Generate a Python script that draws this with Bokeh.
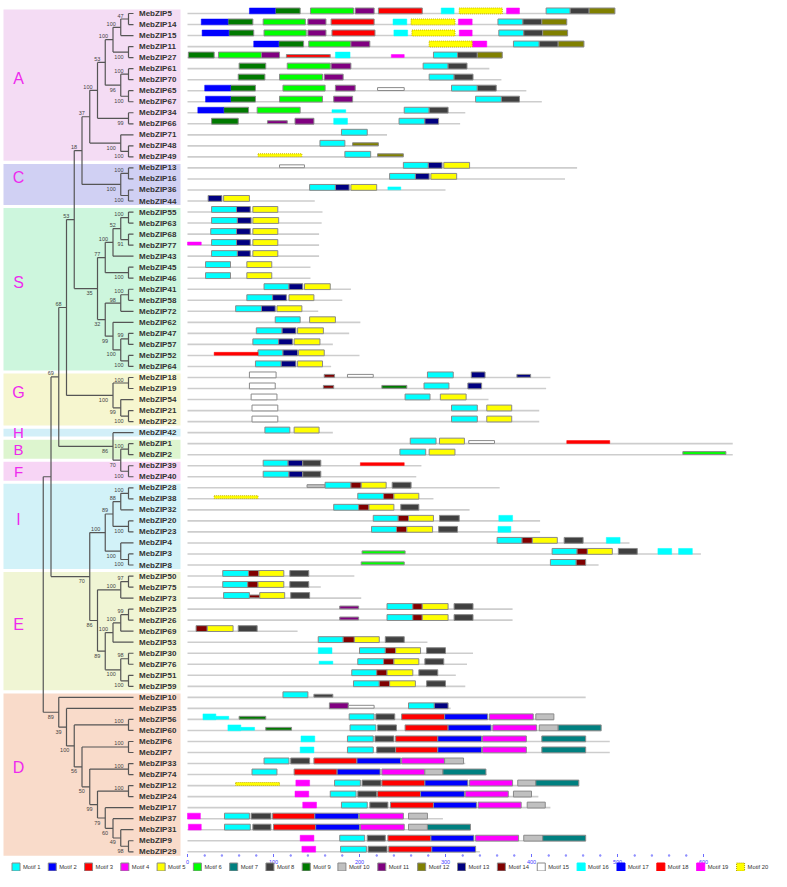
from bokeh.plotting import figure
from bokeh.models import Range1d, ColumnDataSource
from bokeh.core.properties import value
from bokeh.embed import file_html
from bokeh.resources import INLINE

# ---------------- DATA ----------------
# Tree topology (Newick, gene numbers, bootstrap support after ')')
newick_A = "((((((5,14)47,15)100,(11,27)100)100,((61,70)100,(65,67)100)96)53,(34,66)99)100,(71,(48,49)100)100)37"
newick_C = "((13,16)100,(36,44)100)100"
newick_S = ("(((((55,63)100,(68,77)91)52,43)100,(45,46)100)77,"
            "(((41,58)100,72)98,(62,((47,57)99,(52,64)100)100)99)32)35")
newick_G = "((18,19)100,(54,(21,22)100)99)100"
newick_HBF = "(42,((1,2)100,(39,40)100)70)86"
newick_I = "((((28,38)100,32)88,(20,23)100)89,(4,(3,8)100)100)100"
newick_E = "(((50,75)97,73)100,((((25,26)99,69)100,53)100,((30,76)98,(51,59)100)100)89)86"
newick_D = "(10,(35,((56,60)100,((6,7)100,((33,74)100,((12,24)100,(17,(37,(31,(9,29)98)49)60)79)99)50)56)100)39)89"

# Protein length (aa) and motif hits (motif, start, end[, 'w' = weak/thin hit])
clade_A = {
    "MebZIP5": (497, [(17,72,102),(9,102,131),(6,143,193),(11,195,217),(3,222,273),(16,295,310),(20,316,366),(19,371,386),(1,417,445),(8,445,467),(12,467,497)]),
    "MebZIP14": (441, [(17,16,47),(9,47,76),(6,88,137),(11,140,161),(3,167,217),(16,239,255),(20,260,311),(19,315,331),(1,361,390),(8,390,412),(12,412,441)]),
    "MebZIP15": (442, [(17,17,48),(9,48,77),(6,89,138),(11,140,161),(3,168,218),(16,240,256),(20,261,311),(19,316,331),(1,362,391),(8,391,413),(12,413,442)]),
    "MebZIP11": (461, [(17,77,106),(9,106,135),(6,141,190),(11,190,212),(20,281,331),(19,331,348),(1,379,409),(8,409,431),(12,431,461)]),
    "MebZIP27": (366, [(9,1,31),(6,36,86),(11,86,107),(3,115,166,'w'),(16,172,189),(19,237,252,'w'),(1,286,314),(8,314,337),(12,337,366)]),
    "MebZIP61": (351, [(9,60,91),(6,116,166),(11,167,190),(1,274,303),(8,303,325)]),
    "MebZIP70": (365, [(9,59,90),(6,107,157),(11,159,181),(1,281,310),(8,310,332)]),
    "MebZIP65": (394, [(17,20,50),(9,50,79),(6,111,160),(11,172,195),(15,221,252,'w'),(1,307,337),(8,337,359)]),
    "MebZIP67": (412, [(17,21,50),(9,50,79),(6,107,157),(11,170,192),(1,335,365),(8,365,386)]),
    "MebZIP34": (323, [(17,12,42),(9,42,71),(6,81,131),(16,168,184,'w'),(1,252,281),(8,281,303)]),
    "MebZIP66": (317, [(9,28,59),(11,93,116,'w'),(11,125,147),(16,170,186),(1,246,276),(13,276,292)]),
    "MebZIP71": (232, [(1,179,209)]),
    "MebZIP48": (222, [(1,154,183),(12,192,222,'w')]),
    "MebZIP49": (251, [(20,82,133,'w'),(1,183,213),(12,221,251,'w')]),
}
clade_C = {
    "MebZIP13": (453, [(15,107,136,'w'),(1,251,280),(13,280,296),(5,298,328)]),
    "MebZIP16": (439, [(1,235,265),(13,265,281),(5,283,313)]),
    "MebZIP36": (300, [(1,142,172),(13,172,188),(5,190,220),(16,233,248,'w')]),
    "MebZIP44": (148, [(13,24,40),(5,42,72)]),
}
clade_S = {
    "MebZIP55": (157, [(1,28,57),(13,57,73),(5,76,105)]),
    "MebZIP63": (156, [(1,28,58),(13,58,74),(5,76,106)]),
    "MebZIP68": (153, [(1,27,57),(13,57,73),(5,76,105)]),
    "MebZIP77": (153, [(19,0,16,'w'),(1,28,57),(13,57,73),(5,76,105)]),
    "MebZIP43": (153, [(1,28,58),(13,58,73),(5,76,105)]),
    "MebZIP45": (143, [(1,21,50),(5,69,98)]),
    "MebZIP46": (143, [(1,21,50),(5,69,98)]),
    "MebZIP41": (190, [(1,89,118),(13,118,134),(5,136,166)]),
    "MebZIP58": (180, [(1,69,99),(13,99,115),(5,118,147)]),
    "MebZIP72": (152, [(1,56,86),(13,86,102),(5,104,133)]),
    "MebZIP62": (201, [(1,102,131),(5,142,172)]),
    "MebZIP47": (188, [(1,80,110),(13,110,126),(5,128,158)]),
    "MebZIP57": (169, [(1,76,106),(13,106,122),(5,124,154)]),
    "MebZIP52": (200, [(18,31,82,'w'),(1,82,111),(13,111,128),(5,129,159)]),
    "MebZIP64": (167, [(1,79,109),(13,109,126),(5,128,157)]),
}
clade_G = {
    "MebZIP18": (422, [(15,72,103),(14,159,171,'w'),(15,186,216,'w'),(1,279,309),(13,330,346),(13,383,399,'w')]),
    "MebZIP19": (417, [(15,72,102),(14,158,170,'w'),(9,226,255,'w'),(1,275,304),(13,326,342)]),
    "MebZIP54": (350, [(15,74,104),(1,253,282),(5,294,324)]),
    "MebZIP21": (409, [(15,75,105),(1,307,337),(5,348,377)]),
    "MebZIP22": (409, [(15,75,105),(1,307,337),(5,348,377)]),
}
clade_H = {
    "MebZIP42": (169, [(1,90,119),(5,124,153)]),
}
clade_B = {
    "MebZIP1": (634, [(1,259,289),(5,293,322),(15,327,357,'w'),(18,441,491,'w')]),
    "MebZIP2": (634, [(1,247,277),(5,281,311),(6,576,626,'w')]),
}
clade_F = {
    "MebZIP39": (272, [(1,88,117),(13,117,134),(8,134,155),(18,201,252,'w')]),
    "MebZIP40": (266, [(1,88,118),(13,118,134),(8,134,155)]),
}
clade_I = {
    "MebZIP28": (363, [(10,139,160,'w'),(1,160,190),(14,190,202),(5,202,231),(8,238,260)]),
    "MebZIP38": (286, [(20,31,82,'w'),(1,198,228),(14,228,240),(5,240,269)]),
    "MebZIP32": (328, [(1,170,199),(14,199,211),(5,211,240),(8,248,269)]),
    "MebZIP20": (410, [(1,216,245),(14,245,257),(5,257,286),(8,293,316),(16,362,378)]),
    "MebZIP23": (410, [(1,214,243),(14,243,255),(5,255,285),(8,292,314),(16,361,376)]),
    "MebZIP4": (514, [(1,360,389),(14,389,401),(5,401,430),(8,438,460),(16,487,503)]),
    "MebZIP3": (597, [(6,203,253,'w'),(1,424,453),(14,453,465),(5,465,494),(8,501,523),(16,547,563),(16,571,587)]),
    "MebZIP8": (478, [(6,202,252,'w'),(1,422,452),(14,452,463)]),
}
clade_E = {
    "MebZIP50": (194, [(1,41,71),(14,71,83),(5,83,112),(8,119,141)]),
    "MebZIP75": (155, [(1,41,70),(14,70,82),(5,82,112),(8,119,141)]),
    "MebZIP73": (202, [(1,42,72),(14,72,84,'w'),(5,84,113),(8,120,142)]),
    "MebZIP25": (378, [(11,177,199,'w'),(1,232,262),(14,262,273),(5,273,303),(8,310,332)]),
    "MebZIP26": (378, [(11,177,199,'w'),(1,232,262),(14,262,273),(5,273,303),(8,310,332)]),
    "MebZIP69": (128, [(14,10,23),(5,23,53),(8,59,81)]),
    "MebZIP53": (279, [(1,152,181),(14,181,194),(5,194,223),(8,230,252)]),
    "MebZIP30": (332, [(16,152,168),(1,200,230),(14,230,242),(5,242,271),(8,278,300)]),
    "MebZIP76": (325, [(16,153,169,'w'),(1,198,228),(14,228,240),(5,240,269),(8,276,298)]),
    "MebZIP51": (312, [(1,191,220),(14,220,232),(5,232,262),(8,269,291)]),
    "MebZIP59": (323, [(1,193,223),(14,223,235),(5,235,265),(8,278,300)]),
}
clade_D = {
    "MebZIP10": (463, [(1,111,140),(8,147,169,'w')]),
    "MebZIP35": (306, [(11,165,187),(15,187,217,'w'),(1,257,287),(13,287,303)]),
    "MebZIP56": (426, [(16,18,33),(16,33,48,'w'),(9,60,91,'w'),(1,188,217),(8,219,241),(3,249,299),(2,299,349),(4,351,402),(10,405,426)]),
    "MebZIP60": (481, [(16,47,62),(16,62,78,'w'),(9,91,121,'w'),(1,189,219),(8,221,243),(3,253,303),(2,303,353),(4,355,406),(10,409,431),(7,431,481)]),
    "MebZIP6": (491, [(16,132,148),(1,186,216),(8,218,240),(3,242,291),(2,291,342),(4,343,394),(7,412,463)]),
    "MebZIP7": (491, [(16,131,147),(1,186,216),(8,220,242),(3,242,291),(2,291,342),(4,343,394),(7,412,463)]),
    "MebZIP33": (323, [(1,89,118),(8,120,142),(3,147,197),(2,197,248),(4,249,299),(10,299,321)]),
    "MebZIP74": (348, [(1,75,104),(3,124,174),(2,174,224),(4,226,276),(10,276,297),(7,297,347)]),
    "MebZIP12": (455, [(20,56,107,'w'),(19,126,142),(1,171,201),(8,203,225),(3,226,276),(2,276,326),(4,328,378),(10,384,405),(7,405,455)]),
    "MebZIP24": (408, [(19,125,141),(1,166,196),(8,198,220),(3,221,271),(2,271,322),(4,323,373),(10,379,400)]),
    "MebZIP17": (422, [(19,134,150),(1,179,209),(8,212,233),(3,236,286),(2,286,336),(4,338,388),(10,395,416)]),
    "MebZIP37": (297, [(19,0,15),(1,43,72),(8,74,97),(3,99,148),(2,148,199),(4,200,251),(10,257,279)]),
    "MebZIP31": (329, [(19,1,16),(1,43,73),(8,76,97),(3,100,149),(2,149,200),(4,201,252),(10,257,279),(7,279,329)]),
    "MebZIP9": (463, [(19,131,147),(1,177,206),(8,209,230),(3,233,283),(2,283,333),(4,335,385),(10,391,413),(7,413,463)]),
    "MebZIP29": (340, [(19,133,149),(1,178,208),(8,210,232),(3,234,284),(2,284,335)]),
}

clade_names = ["A", "C", "S", "G", "H", "B", "F", "I", "E", "D"]
clade_colors = ["#F4DCF4", "#D0D0F3", "#CDF6DD", "#F6F6CF", "#D2EFF8",
                "#DDF5CF", "#F7D5F5", "#D2F2F8", "#F0F5D4", "#F9DBCA"]
clade_members = [clade_A, clade_C, clade_S, clade_G, clade_H, clade_B, clade_F, clade_I, clade_E, clade_D]

motif_ids = list(range(1, 21))
motif_colors = ["#00FFFF", "#0000FF", "#FF0000", "#FF00FF", "#FFFF00", "#00FF00", "#008080",
                "#404040", "#007A00", "#C0C0C0", "#800080", "#808000", "#000080", "#800000",
                "#FFFFFF", "#00FFFF", "#0000FF", "#FF0000", "#FF00FF", "#FFFF00"]
axis_ticks = [0, 100, 200, 300, 400, 500, 600]

# ---------------- LAYOUT CONSTANTS ----------------
W, H = 771, 871
PX_AA = 0.86            # pixels per amino acid
AA0 = 187.0             # px of aa 0
ROW_PX = 11.03          # pixels per row
ROW0 = 13.0             # px of row 0
STEP = 7.75             # tree px per node level
TIP = 135.75            # px of level 0

x_lo = (0 - AA0) / PX_AA
x_hi = (W - AA0) / PX_AA
y_top = (0 - ROW0) / ROW_PX
y_bot = (H - ROW0) / ROW_PX
t_lo = TIP / STEP
t_hi = (TIP - W) / STEP

def aa_of_px(px):
    return (px - AA0) / PX_AA

def row_of_px(py):
    return (py - ROW0) / ROW_PX

def lvl_of_px(px):
    return (TIP - px) / STEP

p = figure(width=W, height=H, output_backend="svg", toolbar_location=None,
           x_range=Range1d(x_lo, x_hi), y_range=Range1d(y_bot, y_top),
           x_axis_location=None, y_axis_location=None, min_border=0)
p.extra_x_ranges = {"tree": Range1d(t_lo, t_hi)}
p.grid.visible = False
p.outline_line_color = None
p.background_fill_color = "white"
p.border_fill_color = "white"

FONT = value("Liberation Sans")

# ---------------- TREE ----------------
def parse(s):
    pos = 0
    def node():
        nonlocal pos
        if s[pos] == '(':
            pos += 1
            kids = [node()]
            while s[pos] == ',':
                pos += 1
                kids.append(node())
            pos += 1
            lab = ''
            while pos < len(s) and s[pos] not in ',()':
                lab += s[pos]; pos += 1
            return {"kids": kids, "support": lab}
        lab = ''
        while pos < len(s) and s[pos] not in ',()':
            lab += s[pos]; pos += 1
        return {"leaf": "MebZIP" + lab}
    return node()

full = "((((((" + newick_A + "," + newick_C + ")18," + newick_S + ")53," + newick_G + ")68," + \
       newick_HBF + ")69,(" + newick_I + "," + newick_E + ")70)," + newick_D + ")"
tree = parse(full)

leaves = []
def layout(n):
    if "leaf" in n:
        n["y"] = len(leaves)
        n["h"] = 0
        leaves.append(n["leaf"])
        return
    for k in n["kids"]:
        layout(k)
    n["h"] = 1 + max(k["h"] for k in n["kids"])
    n["y"] = (n["kids"][0]["y"] + n["kids"][-1]["y"]) / 2
layout(tree)

LEAF_END = lvl_of_px(133)
hx0, hy0, hx1, hy1 = [], [], [], []
sup_x, sup_y, sup_t, sup_off = [], [], [], []
def draw(n, first=True, is_root=True):
    if "leaf" in n:
        return
    ys = [k["y"] for k in n["kids"]]
    hx0.append(n["h"]); hy0.append(min(ys)); hx1.append(n["h"]); hy1.append(max(ys))
    for i, k in enumerate(n["kids"]):
        xe = LEAF_END if "leaf" in k else k["h"]
        hx0.append(n["h"]); hy0.append(k["y"]); hx1.append(xe); hy1.append(k["y"])
        draw(k, i == 0, False)
    if n["support"] and not is_root:
        sup_x.append(n["h"]); sup_y.append(n["y"]); sup_t.append(n["support"])
        sup_off.append(-3.5 if first else 4.5)
draw(tree)

# clade backgrounds and letters
all_genes = {}
for ci, members in enumerate(clade_members):
    rows = [leaves.index(g) for g in members]
    all_genes.update(members)
    p.quad(left=lvl_of_px(3), right=lvl_of_px(180), top=min(rows) - 0.36, bottom=max(rows) + 0.36,
           fill_color=clade_colors[ci], line_color=None, x_range_name="tree")
    mid = (min(rows) + max(rows)) / 2
    n = len(rows)
    p.text(x=[lvl_of_px(18)], y=[mid - (0.6 if n > 3 else 0)], text=[clade_names[ci]],
           text_font=FONT, text_font_size="16px" if n > 2 else "15px",
           text_color="#EE2AEE", text_align="center", text_baseline="middle",
           x_range_name="tree")

p.segment(x0=hx0, y0=hy0, x1=hx1, y1=hy1, line_color="#555555", line_width=1.2,
          x_range_name="tree")
p.text(x=sup_x, y=sup_y, text=sup_t, y_offset=sup_off, x_offset=-5,
       text_font=FONT, text_font_size="5.5px", text_color="#444444",
       text_align="right", text_baseline="middle", x_range_name="tree")

# gene labels
p.text(x=[LEAF_END] * len(leaves), y=list(range(len(leaves))), text=leaves, x_offset=5.5,
       text_font=FONT, text_font_size="8px", text_font_style="bold",
       text_color="#333333", text_baseline="middle", x_range_name="tree")

# ---------------- MOTIF DIAGRAMS ----------------
lens = [all_genes[g][0] for g in leaves]
p.segment(x0=[0] * len(leaves), y0=list(range(len(leaves))), x1=lens,
          y1=list(range(len(leaves))), line_color="#CDCDCD", line_width=1.6)

groups = {"border": dict(l=[], r=[], t=[], b=[], c=[]),
          "plain": dict(l=[], r=[], t=[], b=[], c=[]),
          "dotted": dict(l=[], r=[], t=[], b=[], c=[])}
for ri, g in enumerate(leaves):
    for hit in all_genes[g][1]:
        m, s, e = hit[0], hit[1], hit[2]
        weak = len(hit) > 3
        key = "border" if m <= 15 else ("dotted" if m == 20 else "plain")
        d = groups[key]
        d["l"].append(s); d["r"].append(e)
        d["t"].append(ri - (0.28 if weak else 0.5)); d["b"].append(ri + (-0.02 if weak else 0.03))
        d["c"].append(motif_colors[m - 1])

for key, lc, dash in [("border", "#8A8A8A", "solid"), ("plain", None, "solid"),
                      ("dotted", "#C8B400", "1 1")]:
    d = groups[key]
    src = ColumnDataSource(dict(left=d["l"], right=d["r"], top=d["t"], bottom=d["b"], color=d["c"]))
    p.quad(left="left", right="right", top="top", bottom="bottom", source=src,
           fill_color="color", line_color=lc if lc else "color",
           line_width=1 if lc else 0.5, line_dash=dash)

# ---------------- SCALE BAR ----------------
ay0, ay1 = row_of_px(853.5), row_of_px(856.5)
p.segment(x0=axis_ticks, y0=[ay0] * len(axis_ticks), x1=axis_ticks,
          y1=[ay1] * len(axis_ticks), line_color="#6A6AFF", line_width=1)
minor = [v for v in range(0, 620, 20) if v % 100 != 0]
p.scatter(x=minor, y=[row_of_px(855)] * len(minor), size=1.3, color="#9090FF", marker="square")
p.text(x=axis_ticks, y=[row_of_px(861)] * len(axis_ticks), text=[str(v) for v in axis_ticks],
       text_font=FONT, text_font_size="5.5px", text_color="#4040FF",
       text_align="center", text_baseline="middle")

# ---------------- LEGEND ----------------
ref_px = [15.5 + 37.4 * i for i in range(9)] + [351.5 + 41.1 * i for i in range(11)]
leg_px = [15.5 + (v - 15.5) * 0.97 for v in ref_px]
leg_x = [aa_of_px(v) for v in leg_px]
leg_y = row_of_px(866.5)
for i, m in enumerate(motif_ids):
    if m <= 15:
        lc, dash = "#8A8A8A", "solid"
    elif m == 20:
        lc, dash = "#B0A000", "1 1"
    else:
        lc, dash = motif_colors[i], "solid"
    p.rect(x=[leg_x[i]], y=[leg_y], width=8, height=8, width_units="screen", height_units="screen",
           fill_color=motif_colors[i], line_color=lc, line_dash=dash, line_width=1)
p.text(x=leg_x, y=[leg_y] * 20, text=["Motif %d" % m for m in motif_ids], x_offset=7,
       text_font=FONT, text_font_size="5.8px", text_color="#333333", text_baseline="middle")

open("out.html", "w").write(file_html(p, INLINE))
